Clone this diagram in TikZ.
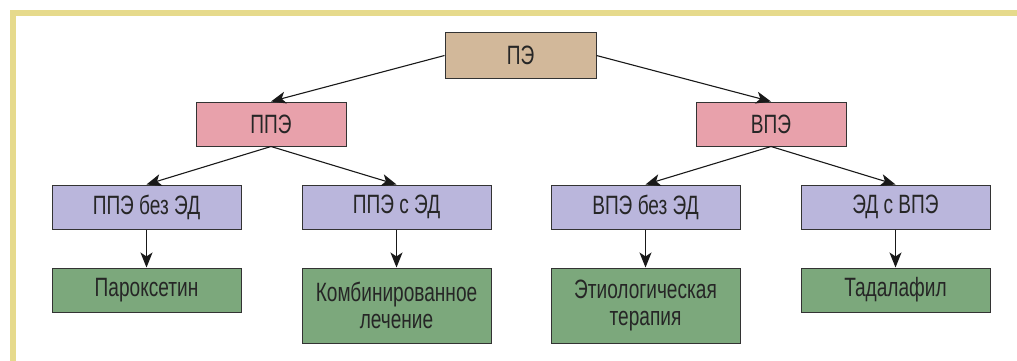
\documentclass[tikz,border=0pt]{standalone}
\usepackage{fontspec}
\setmainfont{Liberation Sans}[FakeStretch=0.72]
\usetikzlibrary{arrows.meta}
\definecolor{frameyel}{HTML}{E6DA8C}
\definecolor{tanc}{HTML}{D2B89A}
\definecolor{pinkc}{HTML}{E8A1AB}
\definecolor{lavc}{HTML}{BAB6DC}
\definecolor{greenc}{HTML}{7CA87C}
\definecolor{edgec}{HTML}{333333}
\tikzset{
  box/.style={draw=edgec, line width=1pt, rectangle, inner sep=0pt, align=center,
    font=\fontsize{26.5}{27.5}\selectfont, text=black!85},
  topbox/.style={box, fill=tanc, minimum width=151pt, minimum height=45pt},
  midbox/.style={box, fill=pinkc, minimum width=150pt, minimum height=44pt},
  subbox/.style={box, fill=lavc, minimum width=189pt, minimum height=44pt},
  leafbox/.style={box, fill=greenc, minimum width=189pt, minimum height=44pt},
  tallleaf/.style={leafbox, minimum height=75pt},
  arr/.style={draw=black!90, line width=1.1pt, -{Stealth[length=15pt,width=12pt,inset=4pt]}}
}
\begin{document}
\begin{tikzpicture}[x=1pt,y=-1pt]
\useasboundingbox (0,0) rectangle (1017,361);
\fill[white] (0,0) rectangle (1017,361);
\fill[frameyel] (10,10) rectangle (1017,16);
\fill[frameyel] (10,10) rectangle (16,361);

\node[topbox] (pe) at (520.5,55.5) {ПЭ};
\node[midbox] (ppe) at (271,124) {ППЭ};
\node[midbox] (vpe) at (771,124) {ВПЭ};
\node[subbox] (ppe1) at (146.5,207) {ППЭ без ЭД};
\node[subbox] (ppe2) at (396.5,207) {ППЭ с ЭД};
\node[subbox] (vpe1) at (645.5,207) {ВПЭ без ЭД};
\node[subbox] (vpe2) at (895.5,207) {ЭД с ВПЭ};
\node[leafbox] (t1) at (146.5,290) {Пароксетин};
\node[tallleaf] (t2) at (396.5,305.5) {Комбинированное\\лечение};
\node[tallleaf] (t3) at (645.5,305.5) {Этиологическая\\терапия};
\node[leafbox] (t4) at (895.5,290) {Тадалафил};

\draw[arr] (pe.west) -- (ppe.north);
\draw[arr] (pe.east) -- (vpe.north);
\draw[arr] (ppe.south) -- (ppe1.north);
\draw[arr] (ppe.south) -- (ppe2.north);
\draw[arr] (vpe.south) -- (vpe1.north);
\draw[arr] (vpe.south) -- (vpe2.north);
\draw[arr] (ppe1.south) -- (t1.north);
\draw[arr] (ppe2.south) -- (t2.north);
\draw[arr] (vpe1.south) -- (t3.north);
\draw[arr] (vpe2.south) -- (t4.north);
\end{tikzpicture}
\end{document}
